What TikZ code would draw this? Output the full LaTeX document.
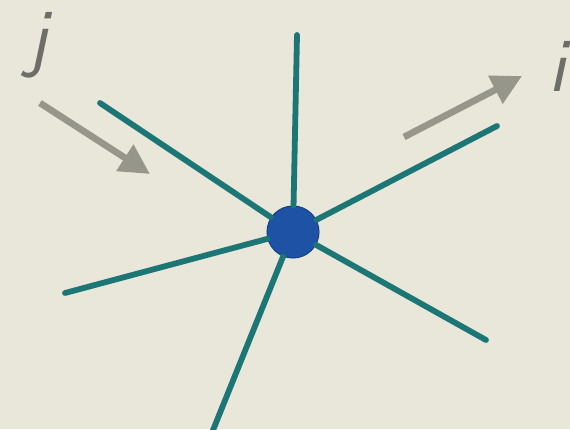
\documentclass[tikz,border=0pt]{standalone}
\usetikzlibrary{arrows.meta}
\definecolor{papier}{RGB}{233,230,218}
\definecolor{sarcelle}{RGB}{28,118,118}
\definecolor{bleunoeud}{RGB}{30,82,165}
\definecolor{grisfleche}{RGB}{150,150,138}
\definecolor{grislettre}{RGB}{110,110,105}

\begin{document}
\begin{tikzpicture}[
    x=0.02cm, y=-0.02cm,
    noeud/.style={circle, fill=bleunoeud, draw=bleunoeud!80!black, line width=0.6pt, minimum size=1.04cm, inner sep=0pt},
    rayon/.style={draw=sarcelle, line width=3.3pt, line cap=round},
    fleche/.style={-{Triangle[length=0.6cm, width=0.6cm]}, draw=grisfleche, line width=3.8pt},
    lettre/.style={text=grislettre, inner sep=0pt, font=\fontsize{44}{44}\selectfont\sffamily\slshape}
  ]
  % fond
  \useasboundingbox (0,0) rectangle (570,429);
  \clip (0,0) rectangle (570,429);
  \fill[papier] (0,0) rectangle (570,429);

  % sommet central
  \node[noeud] (v) at (293,232) {};

  % extremites des rayons
  \coordinate (haut) at (297,35);
  \coordinate (hg) at (100,103);
  \coordinate (hd) at (497,126);
  \coordinate (gauche) at (65,293);
  \coordinate (bd) at (486,340);
  \coordinate (bas) at (207,445);

  \foreach \e in {haut,hg,hd,gauche,bd,bas}
    \draw[rayon] (v) -- (\e);

  % fleches et lettres
  \coordinate (jdep) at (40,103);
  \coordinate (jarr) at (150,174);
  \coordinate (idep) at (404,137);
  \coordinate (iarr) at (522,76);
  \draw[fleche] (jdep) -- (jarr);
  \draw[fleche] (idep) -- (iarr);

  \node[lettre] (j) at (38,45) {j};
  \node[lettre] (i) at (557,66) {i};
\end{tikzpicture}
\end{document}
